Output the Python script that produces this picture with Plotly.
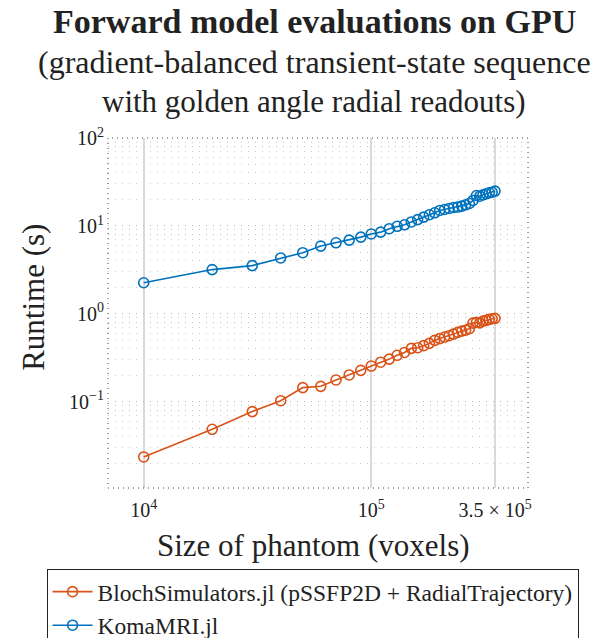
import plotly.graph_objects as go

# Data
phantom_size = [n * 10000 for n in range(1, 36)]
bloch = [0.0236, 0.0487, 0.0774, 0.103, 0.145, 0.150, 0.177, 0.202, 0.228, 0.255,
         0.282, 0.306, 0.338, 0.364, 0.405, 0.412, 0.435, 0.462, 0.500, 0.523,
         0.545, 0.565, 0.589, 0.616, 0.638, 0.652, 0.679, 0.786, 0.800, 0.790,
         0.828, 0.843, 0.865, 0.880, 0.889]
koma = [2.26, 3.19, 3.54, 4.32, 4.96, 5.90, 6.43, 6.90, 7.46, 8.10,
        8.50, 9.30, 9.90, 10.3, 11.1, 11.8, 12.6, 13.4, 14.1, 15.0,
        15.4, 15.8, 16.2, 16.4, 16.8, 17.4, 18.0, 19.5, 22.2, 21.8,
        22.6, 23.2, 23.8, 24.2, 24.9]
series_names = ["BlochSimulators.jl (pSSFP2D + RadialTrajectory)", "KomaMRI.jl"]
series_colors = ["#D95319", "#0072BD"]
x_tickvals = [1e4, 1e5, 3.5e5]
x_ticktext = ["10<sup>4</sup>", "10<sup>5</sup>", "3.5 × 10<sup>5</sup>"]
y_tickvals = [0.1, 1, 10, 100]
y_ticktext = ["10<sup>−1</sup>", "10<sup>0</sup>", "10<sup>1</sup>", "10<sup>2</sup>"]

FONT = "Liberation Serif"
INK = "#222"

fig = go.Figure()
for name, ys, col in zip(series_names, [bloch, koma], series_colors):
    fig.add_trace(go.Scatter(
        x=phantom_size, y=ys, name=name, mode="lines+markers",
        line=dict(color=col, width=1.6),
        marker=dict(symbol="circle-open", size=10, color=col, line=dict(width=1.6, color=col)),
    ))

W, H = 609, 638
L, R, T, B = 107.5, 81, 137.5, 150
PW, PH = W - L - R, H - T - B

def px(xp):
    return (xp - L) / PW

def py(yp):
    return (H - B - yp) / PH

fig.update_layout(
    width=W, height=H,
    margin=dict(l=L, r=R, t=T, b=B, autoexpand=False),
    paper_bgcolor="white", plot_bgcolor="white",
    font=dict(family=FONT, color=INK),
    showlegend=True,
    legend=dict(
        x=px(46), y=py(569),
        xanchor="left", yanchor="top",
        bordercolor=INK, borderwidth=1,
        font=dict(family=FONT, size=23.5, color=INK),
        tracegroupgap=0, itemwidth=40,
        bgcolor="white",
    ),
    xaxis=dict(
        type="log", range=[3.843, 5.689],
        tickmode="array", tickvals=x_tickvals, ticktext=x_ticktext,
        tickfont=dict(size=20, family=FONT, color=INK),
        ticklabelstandoff=8,
        showgrid=True, gridcolor="#d9d9d9", gridwidth=1.5,
        zeroline=False, showline=False, ticks="",
    ),
    yaxis=dict(
        type="log", range=[-1.98, 2],
        tickmode="array", tickvals=y_tickvals, ticktext=y_ticktext,
        tickfont=dict(size=20, family=FONT, color=INK),
        ticklabelstandoff=3,
        showgrid=True, gridcolor="#b5b5b5", gridwidth=1, griddash="1px,6px",
        minor=dict(dtick="D1", showgrid=True, gridcolor="#c8c8c8", gridwidth=1, griddash="1px,6px", ticks=""),
        zeroline=False, showline=False, ticks="",
    ),
)

# dotted plot border
fig.add_shape(type="rect", xref="paper", yref="paper", x0=0, x1=1, y0=0, y1=1,
              line=dict(color="#444", width=1, dash="1px,4px"), layer="above")

# Axis titles
fig.add_annotation(text="Size of phantom (voxels)", xref="paper", yref="paper",
                   x=px(313.5), y=py(546), xanchor="center", yanchor="middle",
                   showarrow=False, font=dict(size=31, family=FONT, color=INK))
fig.add_annotation(text="Runtime (s)", xref="paper", yref="paper", textangle=-90,
                   x=px(33), y=py(297), xanchor="center", yanchor="middle",
                   showarrow=False, font=dict(size=31, family=FONT, color=INK))

# Title lines
title_lines = [
    ("<b>Forward model evaluations on GPU</b>", 21, 34),
    ("(gradient-balanced transient-state sequence", 61, 32),
    ("with golden angle radial readouts)", 101, 31),
]
for txt, yc, fs in title_lines:
    fig.add_annotation(text=txt, xref="paper", yref="paper",
                       x=px(314), y=py(yc),
                       xanchor="center", yanchor="middle", showarrow=False,
                       font=dict(size=fs, family=FONT, color=INK))

fig.write_html("out.html")
